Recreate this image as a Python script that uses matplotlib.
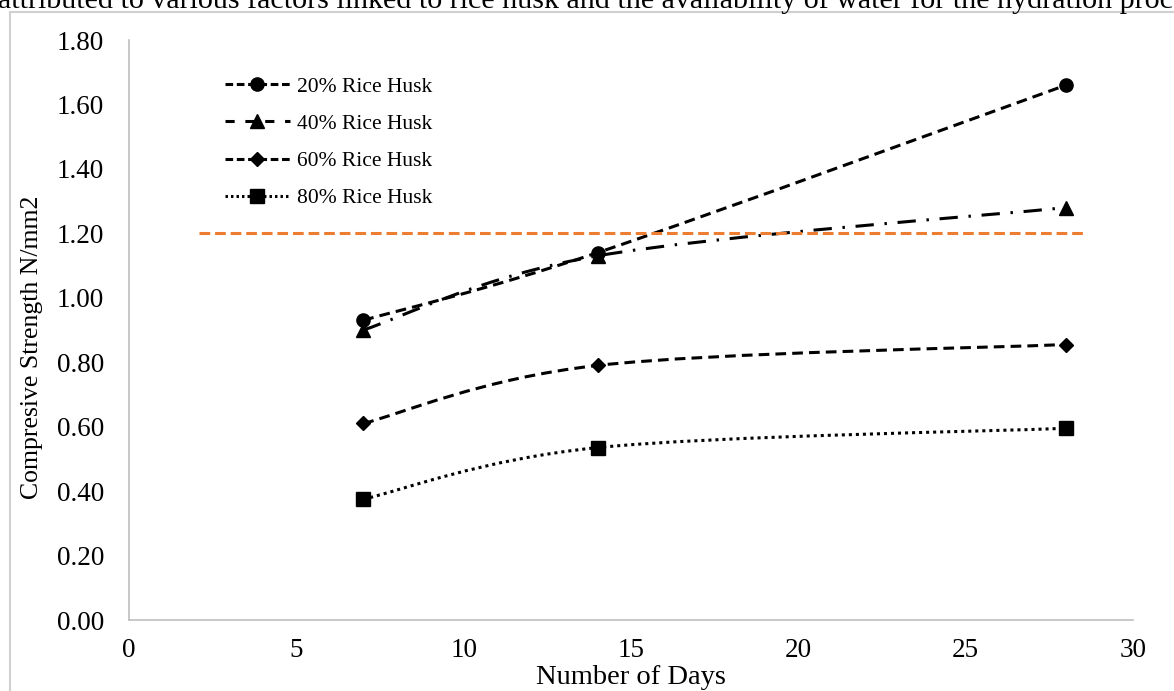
import matplotlib
matplotlib.use("Agg")
import matplotlib.pyplot as plt
from matplotlib.path import Path
from matplotlib.patches import PathPatch, Rectangle
from matplotlib.lines import Line2D
import numpy as np

plt.rcParams['font.family'] = ['Liberation Serif', 'DejaVu Serif']

days = [7, 14, 28]
series_names = ['20% Rice Husk', '40% Rice Husk', '60% Rice Husk', '80% Rice Husk']
rh20 = [0.93, 1.14, 1.66]
rh40 = [0.90, 1.13, 1.28]
rh60 = [0.61, 0.79, 0.855]
rh80 = [0.375, 0.535, 0.595]
limit_value = 1.20
limit_x = [2.1, 28.5]
xticks = [0, 5, 10, 15, 20, 25, 30]
yticks = [0.0, 0.2, 0.4, 0.6, 0.8, 1.0, 1.2, 1.4, 1.6, 1.8]

W, H = 1174, 691
fig = plt.figure(figsize=(W / 100, H / 100), dpi=100)
ax = fig.add_axes([129 / W, 71 / H, (1133 - 129) / W, (620 - 40) / H])

def smooth_path(xs, ys, tension=1/6):
    pts = np.column_stack([xs, ys]).astype(float)
    n = len(pts)
    verts = [pts[0]]
    codes = [Path.MOVETO]
    for i in range(n - 1):
        p0 = pts[i - 1] if i > 0 else pts[i]
        p1 = pts[i]
        p2 = pts[i + 1]
        p3 = pts[i + 2] if i + 2 < n else pts[i + 1]
        c1 = p1 + (p2 - p0) * tension
        c2 = p2 - (p3 - p1) * tension
        verts += [c1, c2, p2]
        codes += [Path.CURVE4] * 3
    return Path(verts, codes)

styles = [
    dict(ls=(0, (3.5, 2)), marker='o', ms=9.5),
    dict(ls=(0, (6, 3.5, 0.8, 3.5)), marker='^', ms=9.5),
    dict(ls=(0, (3.5, 2)), marker='D', ms=7.5),
    dict(ls=(0, (1, 1.3)), marker='s', ms=9.5),
]
leg_styles = [(0, (2.5, 1.2)), (0, (3, 3.5)), (0, (2.5, 1.2)), (0, (0.8, 1.0))]
data = [rh20, rh40, rh60, rh80]

handles = []
for vals, st, lst in zip(data, styles, leg_styles):
    patch = PathPatch(smooth_path(days, vals), fill=False, edgecolor='black',
                      lw=2.2, linestyle=st['ls'], capstyle='butt')
    ax.add_patch(patch)
    ax.plot(days, vals, linestyle='none', marker=st['marker'], ms=st['ms'],
            color='black')
    handles.append(Line2D([], [], color='black', lw=2.2, linestyle=lst,
                          marker=st['marker'], ms=st['ms']))

ax.plot(limit_x, [limit_value, limit_value], color='#ED7D31', lw=2.2,
        linestyle=(0, (3.5, 1.6)))

ax.set_xlim(0, 30)
ax.set_ylim(0, 1.8)
ax.set_xticks(xticks)
ax.set_yticks(yticks)
ax.set_yticklabels([f'{v:.2f}' for v in yticks])
ax.tick_params(length=0, labelsize=19.5, colors='black')
ax.tick_params(axis='y', pad=18)
ax.tick_params(axis='x', pad=13)
for s in ['top', 'right']:
    ax.spines[s].set_visible(False)
for s in ['left', 'bottom']:
    ax.spines[s].set_color('#BFBFBF')
    ax.spines[s].set_linewidth(1.2)

ax.set_xlabel('Number of Days', fontsize=20.5)
ax.xaxis.set_label_coords(0.5, -(677 - 620) / 580, transform=ax.transAxes)
ax.xaxis.label.set_va('center')
ax.set_ylabel('Compresive Strength N/mm2', fontsize=18.5)
ax.yaxis.set_label_coords(-(129 - 32) / 1004, (620 - 347) / 580, transform=ax.transAxes)
ax.yaxis.label.set_va('center')

leg = ax.legend(handles, series_names, loc='upper left',
                bbox_to_anchor=(0.0956, 0.937), frameon=False, fontsize=15.5,
                handlelength=3.0, labelspacing=0.8, handletextpad=0.33,
                borderpad=0, borderaxespad=0)

fig.patches.append(Rectangle((10 / W, -0.1), 1.2, (691 - 12) / H + 0.1,
                             transform=fig.transFigure, fill=False,
                             edgecolor='#D0D0D0', lw=1.5, figure=fig))
fig.text(-2 / W, 1 - 8 / H,
         'attributed to various factors linked to rice husk and the availability of water for the hydration process',
         fontsize=21.6, va='baseline', ha='left')

fig.savefig('out.png', dpi=100)
